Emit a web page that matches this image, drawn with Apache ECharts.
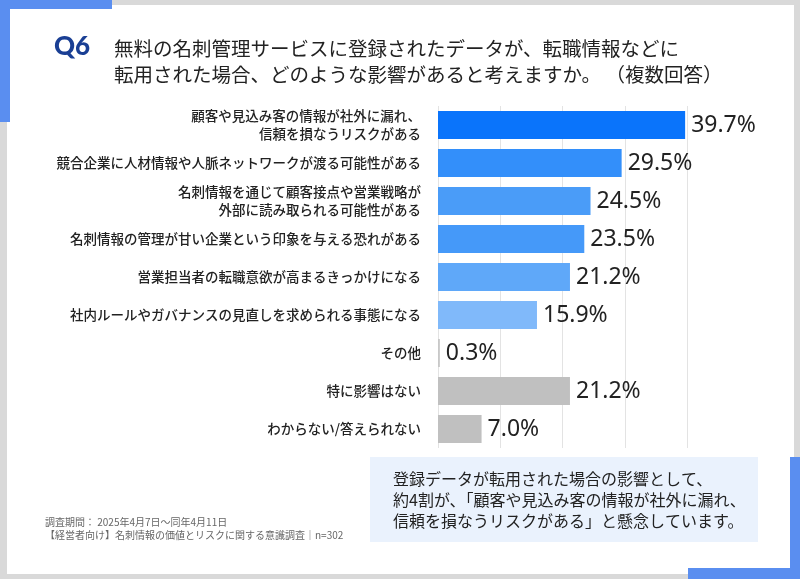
<!DOCTYPE html>
<html>
<head>
<meta charset="utf-8">
<script src="https://cdn.jsdelivr.net/npm/echarts@6/dist/echarts.min.js"></script>
<style>
  html, body { margin: 0; padding: 0; background: #d9d9d9; }
  #chart { width: 800px; height: 579px; }
</style>
</head>
<body>
<div id="chart"></div>
<script>
// Answers (top to bottom) and their shares in percent
const categories = [
    '顧客や見込み客の情報が社外に漏れ、\n信頼を損なうリスクがある',
    '競合企業に人材情報や人脈ネットワークが渡る可能性がある',
    '名刺情報を通じて顧客接点や営業戦略が\n外部に読み取られる可能性がある',
    '名刺情報の管理が甘い企業という印象を与える恐れがある',
    '営業担当者の転職意欲が高まるきっかけになる',
    '社内ルールやガバナンスの見直しを求められる事態になる',
    'その他',
    '特に影響はない',
    'わからない/答えられない'
];
const values = [39.7, 29.5, 24.5, 23.5, 21.2, 15.9, 0.3, 21.2, 7.0];
const barColors = ['#0a74fb', '#338ffa', '#4a9cf8', '#4599f9', '#5fa8f9', '#80b9fa', '#c8c8c8', '#c0c0c0', '#c0c0c0'];
const xTicks = [0, 10, 20, 30, 40];

const titleLines = [
    '無料の名刺管理サービスに登録されたデータが、転職情報などに',
    '転用された場合、どのような影響があると考えますか。 （複数回答）'
];
const noteLines = [
    '調査期間： 2025年4月7日～同年4月11日',
    '【経営者向け】名刺情報の価値とリスクに関する意識調査｜n=302'
];
const boxLines = [
    '登録データが転用された場合の影響として、',
    '約4割が、「顧客や見込み客の情報が社外に漏れ、',
    '信頼を損なうリスクがある」と懸念しています。'
];

const font = '"Noto Sans CJK JP", "Noto Sans", sans-serif';
const accent = '#5a8ef0';

document.addEventListener('DOMContentLoaded', function () {
    const chart = echarts.init(document.getElementById('chart'));

    const option = {
        animation: false,
        backgroundColor: '#d9d9d9',
        textStyle: { fontFamily: font },
        graphic: [
            // white card and blue corner marks
            { type: 'rect', z: -10, shape: { x: 7, y: 5, width: 787, height: 569 }, style: { fill: '#ffffff' } },
            { type: 'rect', z: -9, shape: { x: 0, y: 0, width: 112, height: 9 }, style: { fill: accent } },
            { type: 'rect', z: -9, shape: { x: 0, y: 0, width: 10, height: 122 }, style: { fill: accent } },
            { type: 'rect', z: -9, shape: { x: 688, y: 568, width: 112, height: 11 }, style: { fill: accent } },
            { type: 'rect', z: -9, shape: { x: 790, y: 457, width: 10, height: 122 }, style: { fill: accent } },
            // heading
            { type: 'text', left: 54, top: 34, style: { text: 'Q6', fill: '#1a3f94', font: '900 26px "Lato", "Noto Sans", sans-serif' } },
            { type: 'text', left: 114, top: 36, style: { text: titleLines.join('\n'), fill: '#222', font: '19.5px ' + font, lineHeight: 26 } },
            // survey note
            { type: 'text', left: 45, top: 516, style: { text: noteLines.join('\n'), fill: '#666', font: '10px ' + font, lineHeight: 13 } },
            // summary box
            { type: 'rect', z: -5, shape: { x: 370, y: 457, width: 388, height: 85 }, style: { fill: '#eaf2fd' } },
            { type: 'text', left: 393, top: 468, style: { text: boxLines.join('\n'), fill: '#222', font: '16px ' + font, lineHeight: 21 } }
        ],
        grid: {
            left: 438,
            right: 113,
            top: 106,
            height: 342
        },
        xAxis: {
            type: 'value',
            min: xTicks[0],
            max: xTicks[xTicks.length - 1],
            interval: 10,
            axisLabel: { show: false },
            axisLine: { show: false },
            axisTick: { show: false },
            splitLine: { lineStyle: { color: '#e3e3e3', width: 1 } }
        },
        yAxis: {
            type: 'category',
            inverse: true,
            data: categories,
            axisLine: { show: false },
            axisTick: { show: false },
            axisLabel: {
                margin: 17,
                color: '#222',
                fontSize: 13.5,
                fontWeight: 500,
                lineHeight: 18,
                align: 'right'
            }
        },
        series: [
            {
                type: 'bar',
                barWidth: 28,
                data: values.map(function (v, i) {
                    return { value: v, itemStyle: { color: barColors[i] } };
                }),
                label: {
                    show: true,
                    position: 'right',
                    distance: 6,
                    color: '#222',
                    fontSize: 23,
                    fontFamily: '"Noto Sans", sans-serif',
                    formatter: function (p) { return p.value.toFixed(1) + '%'; }
                }
            }
        ]
    };
    chart.setOption(option);

    window.addEventListener('resize', function () {
        chart.resize();
    });
});
</script>
</body>
</html>
